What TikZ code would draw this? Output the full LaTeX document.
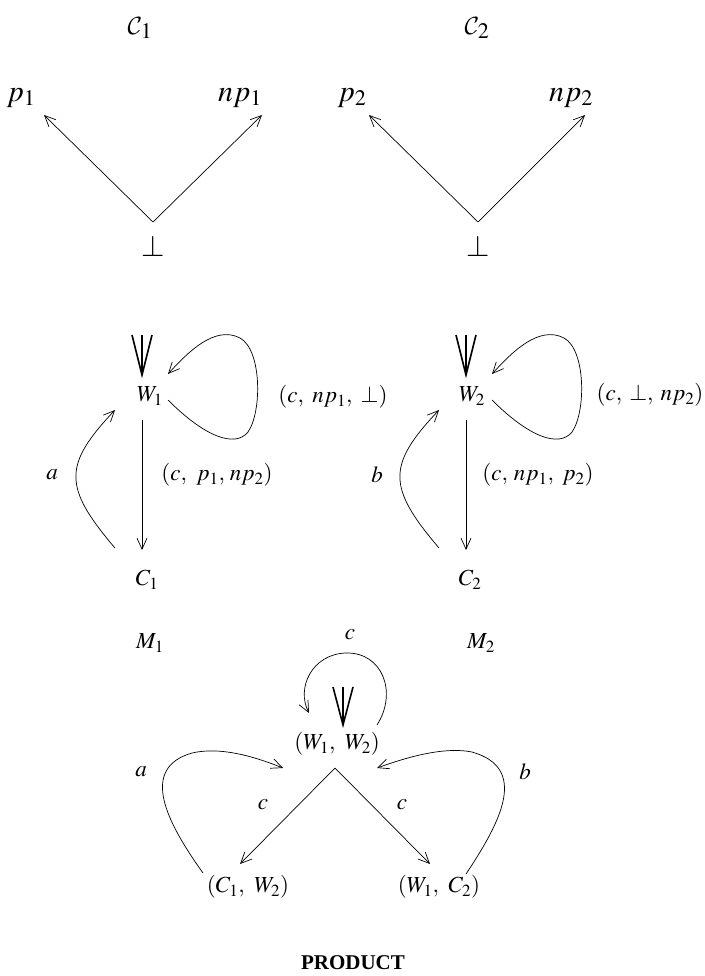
\documentclass[tikz,border=0pt]{standalone}
\usepackage{mathptmx}
\DeclareMathAlphabet{\mathcal}{OMS}{cmsy}{m}{n}
\usepackage{fontspec}
\setmainfont{Liberation Serif}
\usetikzlibrary{arrows.meta}
\tikzset{
  lbl/.style={inner sep=0pt, font=\fontsize{23}{27}\selectfont},
  biglbl/.style={inner sep=0pt, font=\fontsize{30}{34}\selectfont},
  edge/.style={line width=0.7pt, -{Straight Barb[length=11pt,width=10pt,line width=0.7pt]}},
  initmark/.style={line width=1.6pt}
}
\begin{document}
\begin{tikzpicture}[x=1pt,y=-1pt]
\useasboundingbox (0,0) rectangle (704,976);
% ---------- C1 ----------
\node[biglbl] (cC1) at (140,28) {$\mathcal{C}_1$};
\node[biglbl] (p1) at (21,98) {$p_1$};
\node[biglbl] (np1) at (240,98) {$np_1$};
\node[biglbl] (bot1) at (153,246) {$\bot$};
\coordinate (v1) at (153,222);
\coordinate (p1t) at (44,115);
\coordinate (np1t) at (262,115);
\draw[edge] (v1) -- (p1t);
\draw[edge] (v1) -- (np1t);
% ---------- C2 ----------
\node[biglbl] (cC2) at (477,28) {$\mathcal{C}_2$};
\node[biglbl] (p2) at (352,98) {$p_2$};
\node[biglbl] (np2) at (571,98) {$np_2$};
\node[biglbl] (bot2) at (478,246) {$\bot$};
\coordinate (v2) at (478,222);
\coordinate (p2t) at (369,115);
\coordinate (np2t) at (585,115);
\draw[edge] (v2) -- (p2t);
\draw[edge] (v2) -- (np2t);
% ---------- M1 ----------
\node[lbl] (W1) at (150,396) {$W_1$};
\node[lbl] (C1) at (147,580) {$C_1$};
\node[lbl] (la) at (52,475) {$a$};
\node[lbl] (lw1c1) at (217,475) {$(c,\hspace{0.3em}p_1,\hspace{0.1em}np_2)$};
\node[lbl] (lw1w1) at (333,397) {$(c,\hspace{0.25em}np_1,\hspace{0.25em}\bot)$};
\node[lbl] (M1) at (150,643) {$M_1$};
\coordinate (i1a) at (132,335);
\coordinate (i1b) at (142,335);
\coordinate (i1c) at (152,335);
\coordinate (i1t) at (142,375);
\draw[initmark] (i1a) -- (i1t) -- (i1c);
\draw[initmark] (i1b) -- (i1t);
\coordinate (l1s) at (168,400);
\coordinate (l1e) at (168,374);
\draw[edge] (l1s) .. controls (205,437) and (235,448) .. (248,432)
  .. controls (262,412) and (262,350) .. (240,338)
  .. controls (215,325) and (188,352) .. (l1e);
\coordinate (d1s) at (142,420);
\coordinate (d1e) at (142,550);
\draw[edge] (d1s) -- (d1e);
\coordinate (a1s) at (115,548);
\coordinate (a1e) at (115,410);
\draw[edge] (a1s) .. controls (63,487) and (63,465) .. (a1e);
% ---------- M2 ----------
\node[lbl] (W2) at (472,396) {$W_2$};
\node[lbl] (C2) at (470,580) {$C_2$};
\node[lbl] (lb) at (377,475) {$b$};
\node[lbl] (lw2c2) at (538,475) {$(c,\hspace{0.15em}np_1,\hspace{0.25em}p_2)$};
\node[lbl] (lw2w2) at (650,395) {$(c,\hspace{0.2em}\bot,\hspace{0.2em}np_2)$};
\node[lbl] (M2) at (481,643) {$M_2$};
\coordinate (i2a) at (456,335);
\coordinate (i2b) at (466,335);
\coordinate (i2c) at (476,335);
\coordinate (i2t) at (466,375);
\draw[initmark] (i2a) -- (i2t) -- (i2c);
\draw[initmark] (i2b) -- (i2t);
\coordinate (l2s) at (492,400);
\coordinate (l2e) at (492,374);
\draw[edge] (l2s) .. controls (529,437) and (559,448) .. (572,432)
  .. controls (586,412) and (586,350) .. (564,338)
  .. controls (539,325) and (512,352) .. (l2e);
\coordinate (d2s) at (466,420);
\coordinate (d2e) at (466,550);
\draw[edge] (d2s) -- (d2e);
\coordinate (b2s) at (439,548);
\coordinate (b2e) at (439,410);
\draw[edge] (b2s) .. controls (387,487) and (387,465) .. (b2e);
% ---------- PRODUCT ----------
\node[lbl] (lc0) at (350,635) {$c$};
\node[lbl] (WW) at (337,744) {$(W_1,\hspace{0.3em}W_2)$};
\node[lbl] (CW) at (248,887) {$(C_1,\hspace{0.3em}W_2)$};
\node[lbl] (WC) at (439,887) {$(W_1,\hspace{0.3em}C_2)$};
\node[lbl] (pa) at (141,772) {$a$};
\node[lbl] (pb) at (525,772) {$b$};
\node[lbl] (pc1) at (263,805) {$c$};
\node[lbl] (pc2) at (402,805) {$c$};
\node[inner sep=0pt, font=\fontsize{21}{25}\selectfont\bfseries] (prod) at (353,963) {PRODUCT};
\coordinate (i3a) at (333,687);
\coordinate (i3b) at (343,687);
\coordinate (i3c) at (353,687);
\coordinate (i3t) at (343,725);
\draw[initmark] (i3a) -- (i3t) -- (i3c);
\draw[initmark] (i3b) -- (i3t);
\coordinate (l3s) at (377,725);
\coordinate (l3e) at (309,713);
\draw[edge] (l3s) .. controls (398,692) and (382,652) .. (346,653)
  .. controls (312,654) and (296,688) .. (l3e);
\coordinate (top) at (335,768);
\coordinate (cwt) at (240,864);
\coordinate (wct) at (430,864);
\draw[edge] (top) -- (cwt);
\draw[edge] (top) -- (wct);
\coordinate (as) at (203,873);
\coordinate (ae) at (283,768);
\draw[edge] (as) .. controls (165,820) and (140,768) .. (192,753)
  .. controls (222,746) and (258,758) .. (ae);
\coordinate (bs) at (466,874);
\coordinate (be) at (377,768);
\draw[edge] (bs) .. controls (502,820) and (528,768) .. (472,752)
  .. controls (442,746) and (402,759) .. (be);
\end{tikzpicture}
\end{document}
